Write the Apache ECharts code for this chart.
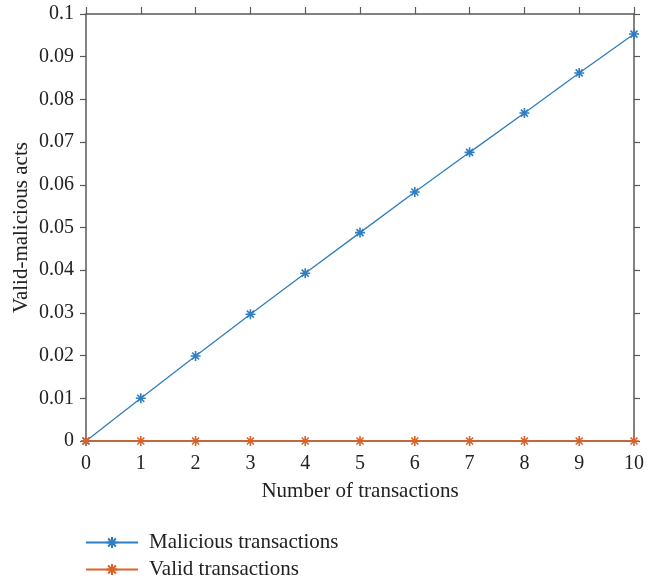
<!DOCTYPE html>
<html>
<head>
<meta charset="utf-8">
<script src="https://cdn.jsdelivr.net/npm/echarts@6/dist/echarts.min.js"></script>
<style>html,body{margin:0;padding:0;background:#fff}#c{width:655px;height:581px}</style>
</head>
<body>
<div id="c"></div>
<script>
const xValues = [0, 1, 2, 3, 4, 5, 6, 7, 8, 9, 10];
const maliciousValues = [0, 0.0100, 0.0199, 0.0297, 0.0393, 0.0488, 0.0583, 0.0676, 0.0768, 0.0862, 0.0953];
const validValues = [0, 0, 0, 0, 0, 0, 0, 0, 0, 0, 0];
const seriesNames = ['Malicious transactions', 'Valid transactions'];
const xTitle = 'Number of transactions';
const yTitle = 'Valid-malicious acts';

const FONT = '"Liberation Serif", "DejaVu Serif", serif';
const AX = '#5a5a5a';
const TXT = '#222';
const star = 'path://M0,-10L0,10M-10,0L10,0M-7,-7L7,7M-7,7L7,-7';

function mk(name, vals, color) {
  return {
    name: name, type: 'line',
    data: xValues.map((x, i) => [x, vals[i]]),
    symbol: star, symbolSize: 10,
    lineStyle: { color: color, width: 1.3 },
    itemStyle: { color: color, borderColor: color, borderWidth: 1.6 },
    emphasis: { disabled: true },
    animation: false
  };
}

function leg(name, top) {
  return {
    left: 80, top: top, itemWidth: 52, itemHeight: 14,
    textStyle: { fontFamily: FONT, fontSize: 21, color: TXT, padding: [0, 0, 0, 6] },
    data: [name]
  };
}

const chart = echarts.init(document.getElementById('c'));
chart.setOption({
  animation: false,
  grid: { left: 86, top: 14, right: 21, bottom: 140 },
  legend: [leg(seriesNames[0], 527), leg(seriesNames[1], 554)],
  xAxis: [{
    type: 'value', min: 0, max: 10, interval: 1,
    name: xTitle, nameLocation: 'middle', nameGap: 40, nameMoveOverlap: false,
    nameTextStyle: { fontFamily: FONT, fontSize: 21, color: TXT },
    axisLine: { onZero: false, lineStyle: { color: AX, width: 1.5 } },
    axisTick: { show: false },
    axisLabel: { fontFamily: FONT, fontSize: 20, color: TXT, margin: 13 },
    splitLine: { show: false }
  }, {
    type: 'value', min: 0, max: 10, interval: 1, position: 'top',
    axisLine: { show: true, onZero: false, lineStyle: { color: AX, width: 1.5 } },
    axisTick: { show: true, length: 7, lineStyle: { color: AX, width: 1.2 } },
    axisLabel: { show: false }, splitLine: { show: false }
  }],
  yAxis: [{
    type: 'value', min: 0, max: 0.1, interval: 0.01,
    name: yTitle, nameLocation: 'middle', nameGap: 54, nameMoveOverlap: false,
    nameTextStyle: { fontFamily: FONT, fontSize: 21, color: TXT },
    axisLine: { show: true, onZero: false, lineStyle: { color: AX, width: 1.5 } },
    axisTick: { show: true, length: 6, lineStyle: { color: AX, width: 1.2 } },
    axisLabel: { fontFamily: FONT, fontSize: 20, color: TXT, margin: 12,
      formatter: v => String(+v.toFixed(2)) },
    splitLine: { show: false }
  }, {
    type: 'value', min: 0, max: 0.1, interval: 0.01, position: 'right',
    axisLine: { show: true, onZero: false, lineStyle: { color: AX, width: 1.5 } },
    axisTick: { show: true, length: 6, lineStyle: { color: AX, width: 1.2 } },
    axisLabel: { show: false }, splitLine: { show: false }
  }],
  series: [
    mk(seriesNames[0], maliciousValues, '#2f7ec1'),
    mk(seriesNames[1], validValues, '#d9622b')
  ]
});
</script>
</body>
</html>
